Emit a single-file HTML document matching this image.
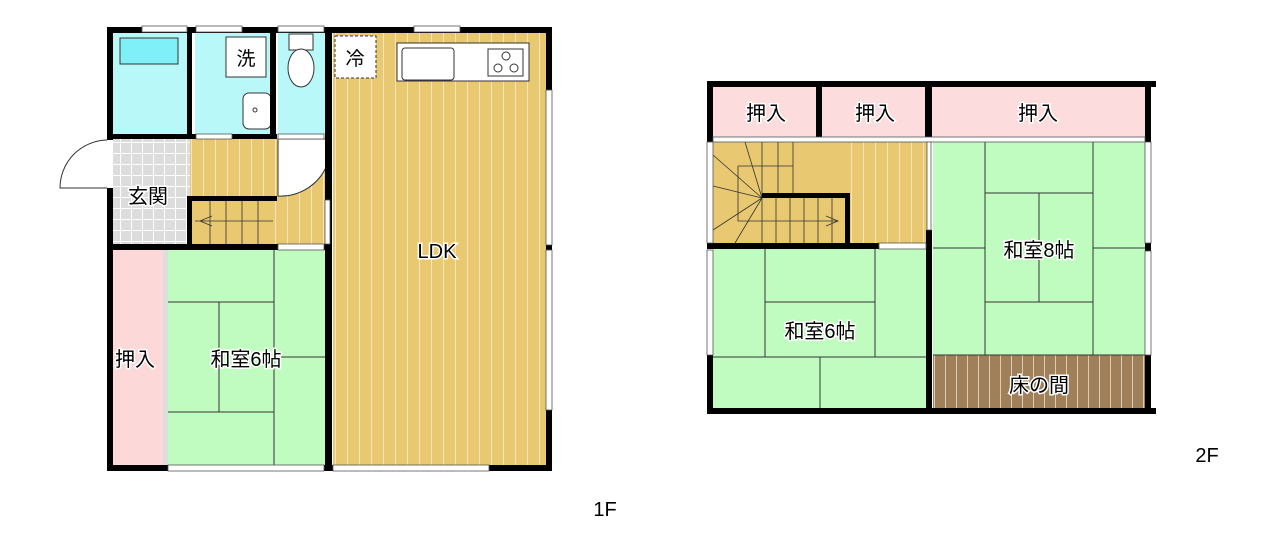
<!DOCTYPE html>
<html><head><meta charset="utf-8"><style>
html,body{margin:0;padding:0;background:#fff;}
svg{display:block;}
text{font-family:"Liberation Sans","Noto Sans CJK JP",sans-serif;fill:#000;stroke:#fff;stroke-width:3px;paint-order:stroke;}
</style></head><body>
<svg width="1280" height="543" viewBox="0 0 1280 543" xmlns="http://www.w3.org/2000/svg">
<defs>
<pattern id="wood" width="12" height="10" patternUnits="userSpaceOnUse">
<rect width="12" height="10" fill="#e8c870"/><rect x="11" width="1" height="10" fill="#f7e6b8"/></pattern>
<pattern id="brown" width="11" height="10" patternUnits="userSpaceOnUse">
<rect width="11" height="10" fill="#a0805a"/><rect x="10" width="1" height="10" fill="#e0cdb0"/></pattern>
<pattern id="tile" width="11" height="11" patternUnits="userSpaceOnUse">
<rect width="11" height="11" fill="#dcdcdc"/><path d="M10.5 0V11M0 10.5H11" stroke="#fff" stroke-width="1"/></pattern>
</defs>
<!-- 1F fills -->
<rect x="113" y="33" width="77" height="101" fill="#b8f8f8"/>
<rect x="120" y="38" width="58" height="26" fill="#80f0f8" stroke="#333" stroke-width="1"/>
<rect x="195" y="33" width="78" height="101" fill="#b8f8f8"/>
<rect x="278" y="33" width="49" height="101" fill="#b8f8f8"/>
<rect x="113" y="139" width="77" height="106" fill="url(#tile)"/>
<rect x="190" y="139" width="137" height="106" fill="url(#wood)"/>
<path d="M278 139 H327 V165 A50 50 0 0 1 278 196 Z" fill="#fff" stroke="#333" stroke-width="1"/>
<rect x="195" y="200" width="78" height="45" fill="#e8c870"/>
<g stroke="#333" stroke-width="0.8" fill="none">
<path d="M210 200V245M226 200V245M242 200V245M258 200V245M195 221H273M212 216L200 221L212 226"/>
</g>
<rect x="333" y="33" width="213" height="432" fill="url(#wood)"/>
<rect x="113" y="250" width="50" height="215" fill="#fcd8d8"/>
<rect x="163" y="250" width="5" height="215" fill="#ddd"/>
<rect x="168" y="250" width="159" height="215" fill="#c0fcc0"/>
<g stroke="#333" stroke-width="1" fill="none">
<path d="M168 302H274M168 412H274M274 250V465M219 302V412M274 357H325"/>
</g>
<!-- fixtures -->
<rect x="397" y="43" width="132" height="38" fill="#fff" stroke="#333"/>
<rect x="402" y="48" width="52" height="32" rx="3" fill="#fff" stroke="#333"/>
<rect x="488" y="49" width="35" height="27" fill="#fff" stroke="#333"/>
<circle cx="506" cy="56" r="4" fill="none" stroke="#333"/><circle cx="498" cy="68" r="4" fill="none" stroke="#333"/><circle cx="514" cy="68" r="4" fill="none" stroke="#333"/>
<rect x="335" y="36" width="41" height="42" fill="#fff" stroke="#333" stroke-dasharray="3,2"/>
<rect x="226" y="37" width="40" height="40" fill="#fff" stroke="#333"/>
<rect x="289" y="34" width="24" height="16" fill="#fff" stroke="#333"/>
<ellipse cx="301" cy="68" rx="13" ry="19" fill="#fff" stroke="#333"/>
<rect x="243" y="93" width="28" height="36" rx="6" fill="#fff" stroke="#333"/>
<circle cx="255" cy="110" r="2" fill="none" stroke="#333"/>
<!-- door arc -->
<path d="M107 140 A48 48 0 0 0 60 188 H107" fill="none" stroke="#333"/>
<!-- 1F walls -->
<g fill="#000">
<rect x="107" y="27" width="445" height="6"/>
<rect x="107" y="27" width="6" height="113"/>
<rect x="107" y="188" width="6" height="282"/>
<rect x="546" y="27" width="6" height="443"/>
<rect x="107" y="465" width="445" height="6"/>
<rect x="187" y="33" width="5" height="106"/>
<rect x="270" y="33" width="6" height="106"/>
<rect x="325" y="27" width="7" height="444"/>
<rect x="107" y="134" width="170" height="5"/>
<rect x="187" y="196" width="90" height="5"/>
<rect x="187" y="196" width="5" height="49"/>
<rect x="107" y="244" width="220" height="6"/>
</g>
<g fill="#fff" stroke="#555" stroke-width="0.8">
<rect x="142" y="26" width="45" height="6"/><rect x="196" y="26" width="46" height="6"/><rect x="278" y="26" width="46" height="6"/><rect x="414" y="26" width="46" height="6"/>
<rect x="546" y="90" width="6" height="155"/><rect x="546" y="250" width="6" height="160"/>
<rect x="168" y="465" width="156" height="6"/><rect x="333" y="465" width="156" height="6"/>
<rect x="196" y="134" width="36" height="5"/><rect x="278" y="134" width="46" height="5"/>
<rect x="325" y="200" width="5" height="44"/><rect x="278" y="244" width="46" height="6"/>
</g>
<text x="148" y="203" font-size="20" text-anchor="middle">玄関</text>
<text x="246" y="65" font-size="19" text-anchor="middle">洗</text>
<text x="355" y="65" font-size="19" text-anchor="middle">冷</text>
<text x="437" y="258" font-size="20" text-anchor="middle">LDK</text>
<text x="135" y="366" font-size="20" text-anchor="middle">押入</text>
<text x="246" y="366" font-size="20" text-anchor="middle">和室6帖</text>
<text x="605" y="516" font-size="20" text-anchor="middle">1F</text>

<!-- 2F fills -->
<rect x="713" y="87" width="437" height="50" fill="#fcdcdc"/>
<rect x="713" y="137" width="432" height="5" fill="#fff"/>
<rect x="713" y="142" width="215" height="101" fill="url(#wood)"/>
<rect x="713" y="142" width="137" height="101" fill="#e8c870"/>
<g stroke="#333" stroke-width="0.8" fill="none">
<path d="M762 142V198M778 142V198M793 142V166M738 166H793V193M738 166V221H838M762 198V243M776 198V243M790 198V243M804 198V243M818 198V243M832 198V243M762 198L713 155M762 198L745 142M762 198L713 186M762 198L713 230M762 198L735 243M826 216L838 221L826 226"/>
</g>
<rect x="713" y="248" width="215" height="160" fill="#c0fcc0"/>
<rect x="933" y="142" width="212" height="213" fill="#c0fcc0"/>
<rect x="933" y="355" width="212" height="53" fill="url(#brown)"/>
<g stroke="#333" stroke-width="1" fill="none">
<path d="M765 248V357M875 248V357M765 302H875M713 357H928M820 357V408"/>
<path d="M985 142V355M1093 142V355M985 193H1093M985 302H1093M1039 193V302M933 248H985M1093 248H1145M933 355H1145"/>
</g>
<!-- 2F walls -->
<g fill="#000">
<rect x="707" y="81" width="449" height="6"/>
<rect x="707" y="81" width="6" height="61"/>
<rect x="707" y="408" width="449" height="6"/>
<rect x="1145" y="81" width="6" height="61"/>
<rect x="1145" y="243" width="6" height="8"/>
<rect x="1145" y="355" width="6" height="59"/>
<rect x="707" y="355" width="6" height="59"/>
<rect x="816" y="81" width="6" height="56"/>
<rect x="925" y="81" width="7" height="56"/>
<rect x="926" y="230" width="6" height="184"/>
<rect x="762" y="193" width="88" height="5"/>
<rect x="845" y="193" width="5" height="50"/>
<rect x="707" y="243" width="172" height="6"/>
</g>
<g fill="#fff" stroke="#555" stroke-width="0.8">
<rect x="713" y="137" width="432" height="5"/>
<rect x="707" y="142" width="6" height="101"/><rect x="707" y="250" width="6" height="105"/>
<rect x="1145" y="142" width="6" height="101"/><rect x="1145" y="251" width="6" height="104"/>
<rect x="879" y="243" width="47" height="6"/>
<rect x="927" y="142" width="4" height="88"/>
</g>
<text x="766" y="120" font-size="20" text-anchor="middle">押入</text>
<text x="875" y="120" font-size="20" text-anchor="middle">押入</text>
<text x="1038" y="120" font-size="20" text-anchor="middle">押入</text>
<text x="1039" y="257" font-size="20" text-anchor="middle">和室8帖</text>
<text x="820" y="338" font-size="20" text-anchor="middle">和室6帖</text>
<text x="1039" y="392" font-size="20" text-anchor="middle">床の間</text>
<text x="1207" y="462" font-size="20" text-anchor="middle">2F</text>
</svg>
</body></html>
